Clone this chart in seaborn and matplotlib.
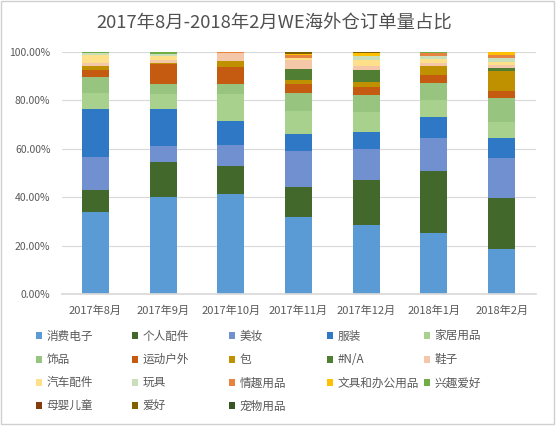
import pandas as pd
import matplotlib
matplotlib.use("Agg")
import matplotlib.pyplot as plt
from matplotlib.patches import Patch, Rectangle
import seaborn as sns

# months on the x axis
months = ['2017年8月', '2017年9月', '2017年10月', '2017年11月',
          '2017年12月', '2018年1月', '2018年2月']

# categories, bottom of the stack first
categories = ['消费电子', '个人配件', '美妆', '服装', '家居用品',
              '饰品', '运动户外', '包', '#N/A', '鞋子',
              '汽车配件', '玩具', '情趣用品', '文具和办公用品', '兴趣爱好',
              '母婴儿童', '爱好', '宠物用品']

colors = ['#5B9BD5', '#43682B', '#7090D0', '#2F78C5', '#A9D18E',
          '#97C47E', '#C55A11', '#BF9000', '#507E32', '#F4C7A8',
          '#FFE08A', '#C9DFB9', '#E8823F', '#FFC000', '#70AD47',
          '#843C0C', '#806000', '#375623']

# share of orders (%) per month, same order as categories
aug_2017 = [33.8, 9.2, 13.7, 19.7, 6.5, 6.6, 3.1, 1.6, 0.0, 1.2, 3.3, 1.0, 0.0, 0.0, 0.3, 0.0, 0.0, 0.0]
sep_2017 = [40.2, 14.3, 6.7, 15.2, 6.1, 4.3, 8.2, 0.3, 0.0, 1.4, 1.8, 0.7, 0.1, 0.0, 0.7, 0.0, 0.0, 0.0]
oct_2017 = [41.3, 11.6, 8.7, 9.9, 11.0, 4.3, 6.9, 2.7, 0.0, 3.0, 0.0, 0.0, 0.6, 0.0, 0.0, 0.0, 0.0, 0.0]
nov_2017 = [31.9, 12.3, 15.0, 6.9, 9.6, 7.2, 3.9, 1.6, 4.6, 3.7, 0.7, 0.0, 1.4, 0.4, 0.0, 0.0, 0.8, 0.0]
dec_2017 = [28.5, 18.6, 12.7, 7.1, 8.4, 6.9, 3.5, 2.0, 4.9, 1.7, 2.4, 1.8, 0.0, 0.9, 0.0, 0.0, 0.6, 0.0]
jan_2018 = [25.3, 25.5, 13.8, 8.7, 6.9, 6.8, 3.7, 3.4, 0.0, 1.5, 1.6, 1.0, 1.2, 0.3, 0.3, 0.0, 0.0, 0.0]
feb_2018 = [18.6, 21.2, 16.5, 8.3, 6.3, 10.0, 3.1, 8.3, 1.2, 1.1, 1.4, 1.4, 1.3, 1.3, 0.0, 0.0, 0.0, 0.0]

y_ticks = [0, 20, 40, 60, 80, 100]

df = pd.DataFrame([aug_2017, sep_2017, oct_2017, nov_2017, dec_2017, jan_2018, feb_2018],
                  index=months, columns=categories)
cum = df.cumsum(axis=1)

sns.set_theme(style="white")
plt.rcParams['font.family'] = ['Noto Sans CJK SC', 'DejaVu Sans']

fig = plt.figure(figsize=(5.56, 4.26), dpi=100)
ax = fig.add_axes([61.5 / 556, 1 - 294 / 426, 474 / 556, 242 / 426])

# stacked bars: draw cumulative totals from the top layer down
for cat, col in reversed(list(zip(categories, colors))):
    sns.barplot(x=months, y=cum[cat].values, order=months, color=col,
                saturation=1, width=0.4, errorbar=None, linewidth=0, ax=ax)

ax.set_ylim(0, 100)
ax.set_xlim(-0.5, len(months) - 0.5)
ax.set_yticks(y_ticks)
ax.set_yticklabels([f'{v:.2f}%' for v in y_ticks])
ax.set_xlabel('')
ax.set_ylabel('')
ax.yaxis.grid(True, color='#D9D9D9', lw=0.8)
ax.set_axisbelow(True)
for s in ['top', 'left', 'right']:
    ax.spines[s].set_visible(False)
ax.spines['bottom'].set_color('#D9D9D9')
ax.tick_params(axis='y', length=0, pad=8, labelsize=7.5, labelcolor='#595959')
ax.tick_params(axis='x', length=0, pad=8, labelsize=8, labelcolor='#595959')

fig.text(0.493, 1 - 24 / 426, '2017年8月-2018年2月WE海外仓订单量占比',
         ha='center', va='center', fontsize=13.2, color='#505050')

# legend laid out row by row, 5 columns at fixed positions
handles = [Patch(facecolor=c, edgecolor='none') for c in colors]
col_x = [36, 132, 229, 327, 424]
for c, x in enumerate(col_x):
    idx = [r * 5 + c for r in range(4) if r * 5 + c < len(categories)]
    fig.legend([handles[i] for i in idx], [categories[i] for i in idx],
               loc='upper left', bbox_to_anchor=(x / 556, 1 - 330 / 426),
               frameon=False, fontsize=8.4, labelcolor='#595959',
               handlelength=0.55, handleheight=0.55, handletextpad=0.35,
               labelspacing=0.87, borderpad=0, borderaxespad=0)

fig.add_artist(Rectangle((0.001, 0.004), 0.996, 0.993, transform=fig.transFigure,
                         fill=False, ec='#D0D0D0', lw=1))

fig.savefig('out.png', dpi=100)
